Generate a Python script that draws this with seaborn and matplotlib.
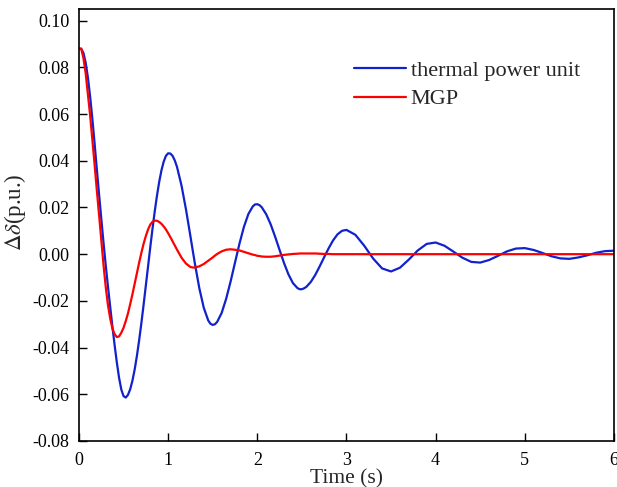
import matplotlib
matplotlib.use('Agg')
import matplotlib.pyplot as plt
import seaborn as sns
import pandas as pd
from matplotlib.ticker import FormatStrFormatter

# values (denser where the curves bend sharply)
time_s = [0.000, 0.025, 0.050, 0.075, 0.100, 0.125, 0.150, 0.175, 0.200, 0.225,
          0.250, 0.275, 0.300, 0.325, 0.350, 0.375, 0.400, 0.425, 0.450, 0.475,
          0.500, 0.525, 0.550, 0.575, 0.600, 0.625, 0.650, 0.675, 0.700, 0.725,
          0.750, 0.775, 0.800, 0.825, 0.850, 0.875, 0.900, 0.925, 0.950, 0.975,
          1.000, 1.025, 1.050, 1.075, 1.100, 1.15, 1.20, 1.25, 1.275, 1.30,
          1.35, 1.40, 1.45, 1.475, 1.50, 1.525, 1.55, 1.60, 1.65, 1.70,
          1.75, 1.80, 1.85, 1.90, 1.95, 1.975, 2.00, 2.025, 2.05, 2.10,
          2.15, 2.20, 2.25, 2.30, 2.35, 2.40, 2.45, 2.475, 2.50, 2.525,
          2.55, 2.60, 2.65, 2.70, 2.75, 2.80, 2.85, 2.90, 2.95, 3.00,
          3.1, 3.2, 3.3, 3.4, 3.5, 3.6, 3.7, 3.8, 3.9, 4.0,
          4.1, 4.2, 4.3, 4.4, 4.5, 4.6, 4.7, 4.8, 4.9, 5.0,
          5.1, 5.2, 5.3, 5.4, 5.5, 5.6, 5.7, 5.8, 5.9, 6.0]

thermal = [0.0880, 0.0880, 0.0862, 0.0820, 0.0757, 0.0675, 0.0580, 0.0475, 0.0365, 0.0258,
           0.0153, 0.0050, -0.0047, -0.0138, -0.0225, -0.0310, -0.0390, -0.0465, -0.0530, -0.0580,
           -0.0608, -0.0614, -0.0602, -0.0578, -0.0541, -0.0493, -0.0435, -0.0368, -0.0295, -0.0216,
           -0.0134, -0.0052, 0.0031, 0.0110, 0.0184, 0.0251, 0.0310, 0.0359, 0.0396, 0.0421,
           0.0432, 0.0431, 0.0421, 0.0401, 0.0373, 0.0294, 0.0192, 0.0077, 0.0018, -0.0040,
           -0.0146, -0.0230, -0.0284, -0.0298, -0.0303, -0.0300, -0.0290, -0.0252, -0.0192, -0.0118,
           -0.0036, 0.0045, 0.0117, 0.0172, 0.0205, 0.0213, 0.0214, 0.0210, 0.0201, 0.0171,
           0.0128, 0.0075, 0.0018, -0.0038, -0.0087, -0.0124, -0.0145, -0.0150, -0.0150, -0.0146,
           -0.0140, -0.0119, -0.0089, -0.0052, -0.0013, 0.0025, 0.0059, 0.0085, 0.0100, 0.0104,
           0.0083, 0.0036, -0.0019, -0.0061, -0.0074, -0.0058, -0.0023, 0.0016, 0.0044, 0.0050,
           0.0036, 0.0011, -0.0015, -0.0033, -0.0036, -0.0025, -0.0007, 0.0012, 0.0024, 0.0026,
           0.0018, 0.0005, -0.0009, -0.0018, -0.0020, -0.0014, -0.0005, 0.0006, 0.0013, 0.0015]

mgp = [0.0880, 0.0880, 0.0840, 0.0775, 0.0685, 0.0595, 0.0490, 0.0385, 0.0275, 0.0170,
       0.0062, -0.0045, -0.0140, -0.0218, -0.0275, -0.0318, -0.0343, -0.0355, -0.0352, -0.0336,
       -0.0315, -0.0286, -0.0253, -0.0213, -0.0171, -0.0126, -0.0081, -0.0036, 0.0006, 0.0045,
       0.0078, 0.0106, 0.0127, 0.0139, 0.0144, 0.0143, 0.0138, 0.0130, 0.0119, 0.0106,
       0.0090, 0.0073, 0.0055, 0.0037, 0.0019, -0.0015, -0.0040, -0.0055, -0.0057, -0.0057,
       -0.0052, -0.0042, -0.0028, -0.0021, -0.0014, -0.0006, 0.0001, 0.0012, 0.0019, 0.0021,
       0.0019, 0.0016, 0.0010, 0.0004, -0.0002, -0.0004, -0.0007, -0.0008, -0.0010, -0.0011,
       -0.0011, -0.0009, -0.0006, -0.0003, -0.0001, 0.0001, 0.0002, 0.0003, 0.0003, 0.0003,
       0.0003, 0.0003, 0.0003, 0.0002, 0.0001, 0.0001, 0.0000, 0.0000, 0.0000, 0.0000,
       0.0, 0.0, 0.0, 0.0, 0.0, 0.0, 0.0, 0.0, 0.0, 0.0,
       0.0, 0.0, 0.0, 0.0, 0.0, 0.0, 0.0, 0.0, 0.0, 0.0,
       0.0, 0.0, 0.0, 0.0, 0.0, 0.0, 0.0, 0.0, 0.0, 0.0]

series_names = ['thermal power unit', 'MGP']
x_ticks = [0, 1, 2, 3, 4, 5, 6]
y_ticks = [-0.08, -0.06, -0.04, -0.02, 0.00, 0.02, 0.04, 0.06, 0.08, 0.10]

df = pd.DataFrame({
    'Time': time_s + time_s,
    'delta': thermal + mgp,
    'unit': [series_names[0]] * len(time_s) + [series_names[1]] * len(time_s),
})

sns.set_style('ticks')
plt.rcParams['font.family'] = ['Liberation Serif', 'DejaVu Serif']
plt.rcParams['mathtext.fontset'] = 'stix'
plt.rcParams['axes.unicode_minus'] = False

fig = plt.figure(figsize=(6.17, 4.87), dpi=100)
ax = fig.add_axes([0.128, 0.0945, 0.867, 0.887])

sns.lineplot(data=df, x='Time', y='delta', hue='unit',
             palette={'thermal power unit': '#1122cc', 'MGP': '#ff0000'},
             linewidth=1.6, ax=ax)

ax.set_xlim(0, 6)
ax.set_ylim(-0.08, 0.105)
ax.set_xticks(x_ticks)
ax.set_yticks(y_ticks)
ax.yaxis.set_major_formatter(FormatStrFormatter('%.2f'))
ax.tick_params(direction='in', length=6, width=1, labelsize=13,
               top=False, right=False, colors='black')
ax.tick_params(axis='x', pad=8)
ax.tick_params(axis='y', pad=7)
for s in ax.spines.values():
    s.set_linewidth(1.2)
    s.set_color('black')

ax.set_xlabel('Time (s)', fontsize=15.5, labelpad=0)
ax.set_ylabel(r'$\Delta\delta$(p.u.)', fontsize=16.5)
ax.yaxis.set_label_coords(-0.095, 0.53)

ax.legend(frameon=False, fontsize=16, loc='upper left',
          bbox_to_anchor=(0.514, 0.881), borderaxespad=0, borderpad=0,
          handlelength=2.35, handletextpad=0.2, labelspacing=0.35)

plt.savefig('out.png', dpi=100)
